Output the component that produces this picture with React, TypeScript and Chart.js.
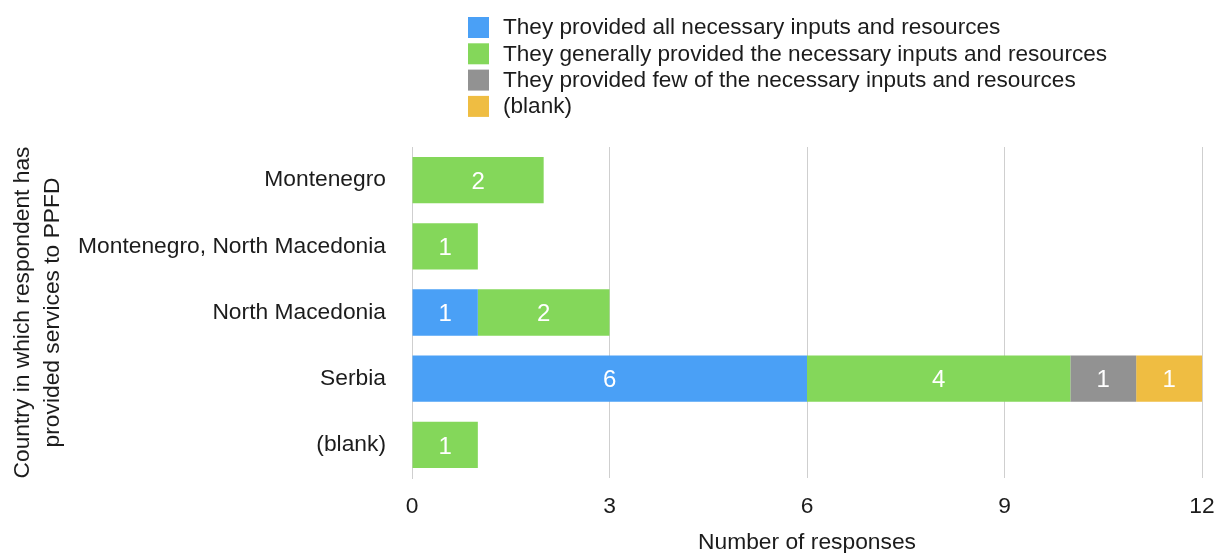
import React, { useEffect, useRef } from "react";
import { Chart, registerables } from "chart.js";

Chart.register(...registerables);

// Countries (rows of the horizontal bar chart)
const categories = [
  "Montenegro",
  "Montenegro, North Macedonia",
  "North Macedonia",
  "Serbia",
  "(blank)",
];

const seriesNames = [
  "They provided all necessary inputs and resources",
  "They generally provided the necessary inputs and resources",
  "They provided few of the necessary inputs and resources",
  "(blank)",
];

const providedAll = [0, 0, 1, 6, 0];
const generallyProvided = [2, 1, 2, 4, 1];
const providedFew = [0, 0, 0, 1, 0];
const blankAnswer = [0, 0, 0, 1, 0];

const xTicks = [0, 3, 6, 9, 12];

const seriesColors = ["#4aa0f6", "#84d75a", "#929292", "#efbd42"];

const FONT = "'Liberation Sans', Arial, Helvetica, sans-serif";
const TEXT = "#1c1c1c";

// Vertical legend list drawn above the plot
const legendPlugin = {
  id: "stackedLegend",
  afterDraw(chart: any) {
    const ctx = chart.ctx;
    ctx.save();
    ctx.font = `22.6px ${FONT}`;
    ctx.textBaseline = "middle";
    ctx.textAlign = "left";
    chart.data.datasets.forEach((ds: any, i: number) => {
      const top = 9 + i * 26.3;
      ctx.fillStyle = ds.backgroundColor;
      ctx.fillRect(460, top, 21, 21);
      ctx.fillStyle = TEXT;
      ctx.fillText(ds.label, 495, top + 11);
    });
    ctx.restore();
  },
};

// White value labels centred in each bar segment
const valueLabelPlugin = {
  id: "segmentValues",
  afterDatasetsDraw(chart: any) {
    const ctx = chart.ctx;
    ctx.save();
    ctx.font = `24px ${FONT}`;
    ctx.fillStyle = "#ffffff";
    ctx.textAlign = "center";
    ctx.textBaseline = "middle";
    chart.data.datasets.forEach((ds: any, di: number) => {
      const meta = chart.getDatasetMeta(di);
      meta.data.forEach((el: any, idx: number) => {
        const v = ds.data[idx];
        if (!v) return;
        ctx.fillText(String(v), (el.x + el.base) / 2, el.y + 2);
      });
    });
    ctx.restore();
  },
};

export default function App() {
  const canvasRef = useRef<HTMLCanvasElement | null>(null);

  useEffect(() => {
    // Let the chart use the full width up to the right window edge
    const prevMarginRight = document.body.style.marginRight;
    document.body.style.marginRight = "0px";
    if (!canvasRef.current) return;
    const values = [providedAll, generallyProvided, providedFew, blankAnswer];
    const chart = new Chart(canvasRef.current, {
      type: "bar",
      data: {
        labels: categories,
        datasets: seriesNames.map((name, i) => ({
          label: name,
          data: values[i],
          backgroundColor: seriesColors[i],
          borderWidth: 0,
          barPercentage: 0.7,
          categoryPercentage: 1,
        })),
      },
      options: {
        indexAxis: "y",
        responsive: false,
        animation: false,
        layout: { padding: { top: 139, right: 16, bottom: 0, left: 0 } },
        plugins: {
          legend: { display: false },
          tooltip: { enabled: false },
        },
        scales: {
          x: {
            stacked: true,
            min: 0,
            max: 12,
            afterBuildTicks: (scale: any) => {
              scale.ticks = xTicks.map((v) => ({ value: v }));
            },
            afterFit: (scale: any) => {
              scale.height = 90;
              scale.paddingLeft = 0;
              scale.paddingRight = 0;
            },
            grid: { color: "#cfcfcf", lineWidth: 1, drawTicks: false },
            border: { display: false },
            ticks: {
              padding: 15,
              color: TEXT,
              font: { family: FONT, size: 22.8 },
            },
            title: {
              display: true,
              text: "Number of responses",
              color: TEXT,
              font: { family: FONT, size: 22.8 },
              padding: { top: 0, bottom: 12 },
            },
          },
          y: {
            stacked: true,
            afterFit: (scale: any) => {
              scale.width = 404;
              scale.paddingTop = 0;
              scale.paddingBottom = 0;
            },
            grid: { display: false, drawTicks: false },
            border: { display: true, color: "#cfcfcf", width: 1 },
            ticks: {
              padding: 26,
              color: TEXT,
              font: { family: FONT, size: 22.8 },
            },
            title: {
              display: true,
              text: ["Country in which respondent has", "provided services to PPFD"],
              color: TEXT,
              font: { family: FONT, size: 22.8, lineHeight: 1.316 },
              padding: { top: 0, bottom: 0 },
            },
          },
        },
      },
      plugins: [legendPlugin, valueLabelPlugin],
    });
    return () => {
      chart.destroy();
      document.body.style.marginRight = prevMarginRight;
    };
  }, []);

  return (
    <div style={{ width: 1210, height: 560 }}>
      <canvas ref={canvasRef} width={1210} height={560} style={{ display: "block" }} />
    </div>
  );
}
